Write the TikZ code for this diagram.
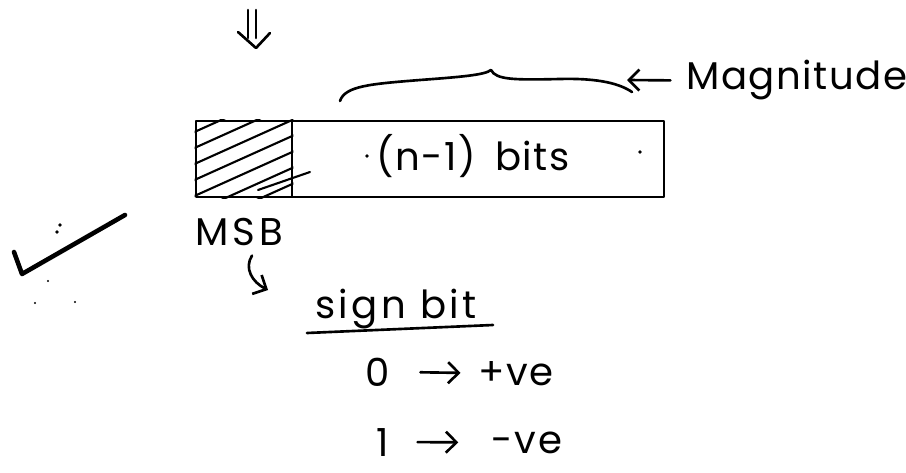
\documentclass[tikz,border=0pt]{standalone}
\usepackage{fontspec}
\setmainfont{Poppins}
\usetikzlibrary{arrows.meta}
\begin{document}
\begin{tikzpicture}[x=0.02cm, y=-0.02cm, line cap=round, line join=round,
  pen/.style={line width=1.5pt},
  thinpen/.style={line width=1.2pt},
  txt/.style={inner sep=0pt, anchor=base},
  big/.style={font=\fontsize{22}{26}\selectfont},
  spaced/.style={font=\fontsize{22}{26}\selectfont\addfontfeature{LetterSpace=#1}},
  cell/.style={draw, pen, inner sep=0pt, minimum height=1.52cm},
  barb/.style={pen, -{Straight Barb[length=6pt, width=12pt]}},
  speck/.style={fill, inner sep=0pt, minimum size=#1, circle}]
\useasboundingbox (0,0) rectangle (906,473);

% down double arrow above the word
\draw[pen] (248,10) -- (248,38) (256,10) -- (256,38);
\draw[pen] (238,32) -- (256,48) -- (270,33);

% the n-bit register: sign cell + magnitude cell
\node[cell, minimum width=1.92cm] (signcell) at (244,159) {};
\node[cell, minimum width=7.44cm] (magcell) at (478,159) {};
\begin{scope}
  \clip (signcell.south west) rectangle (signcell.north east);
  \foreach \k in {0,...,6}
    \draw[thinpen] (190,{134+16*\k}) -- (300,{84.5+16*\k});
\end{scope}
\draw[thinpen] (258,190) -- (310,172);

\node[txt, spaced=4] (bits) at (473,171) {(n-1)\hspace{0.5em}bits};

% brace over the magnitude part
\draw[pen] (340,101) .. controls (345,86) and (370,84) .. (420,80)
  .. controls (460,77) and (485,75) .. (491,70)
  .. controls (496,80) and (515,80) .. (560,79)
  .. controls (600,78) and (620,84) .. (632,92);

\node[txt, spaced=4] (magn) at (797,90) {Magnitude};
\coordinate (magtip) at (627,80);
\draw[barb, shorten <=9pt] (magn.west) -- (magtip);

% MSB label and pointer to the sign bit
\node[txt, spaced=10] (msb) at (239,245) {MSB};
\coordinate (msbtip) at (268,290);
\draw[barb] (msb.south) ++(13,10) .. controls (244,268) and (252,282) .. (msbtip);

% sign bit meaning
\node[txt, spaced=9] (sign) at (396,318) {sign bit};
\draw[pen] (307,333) -- (493,325);

\node[txt, spaced=0] (zero) at (378,386) {0};
\node[txt, spaced=4] (pos) at (516,385) {+ve};
\draw[barb, shorten <=17pt, shorten >=10pt] (zero.east) -- (pos.west);

\node[txt, spaced=0] (one) at (383,456) {1};
\node[txt, spaced=4] (neg) at (527,453) {-ve};
\draw[barb, shorten <=16pt, shorten >=19pt] (one.east) -- (neg.west);

% check mark on the left
\draw[line width=2.6pt] (14,252) -- (22,274) -- (125,215);

% stray pen marks
\foreach \p in {(367,156),(640,152),(60,225),(57,232)}
  \node[speck=2.2pt] at \p {};
\foreach \p in {(48,281),(35,303),(75,302)}
  \node[speck=1.3pt] at \p {};
\end{tikzpicture}
\end{document}
